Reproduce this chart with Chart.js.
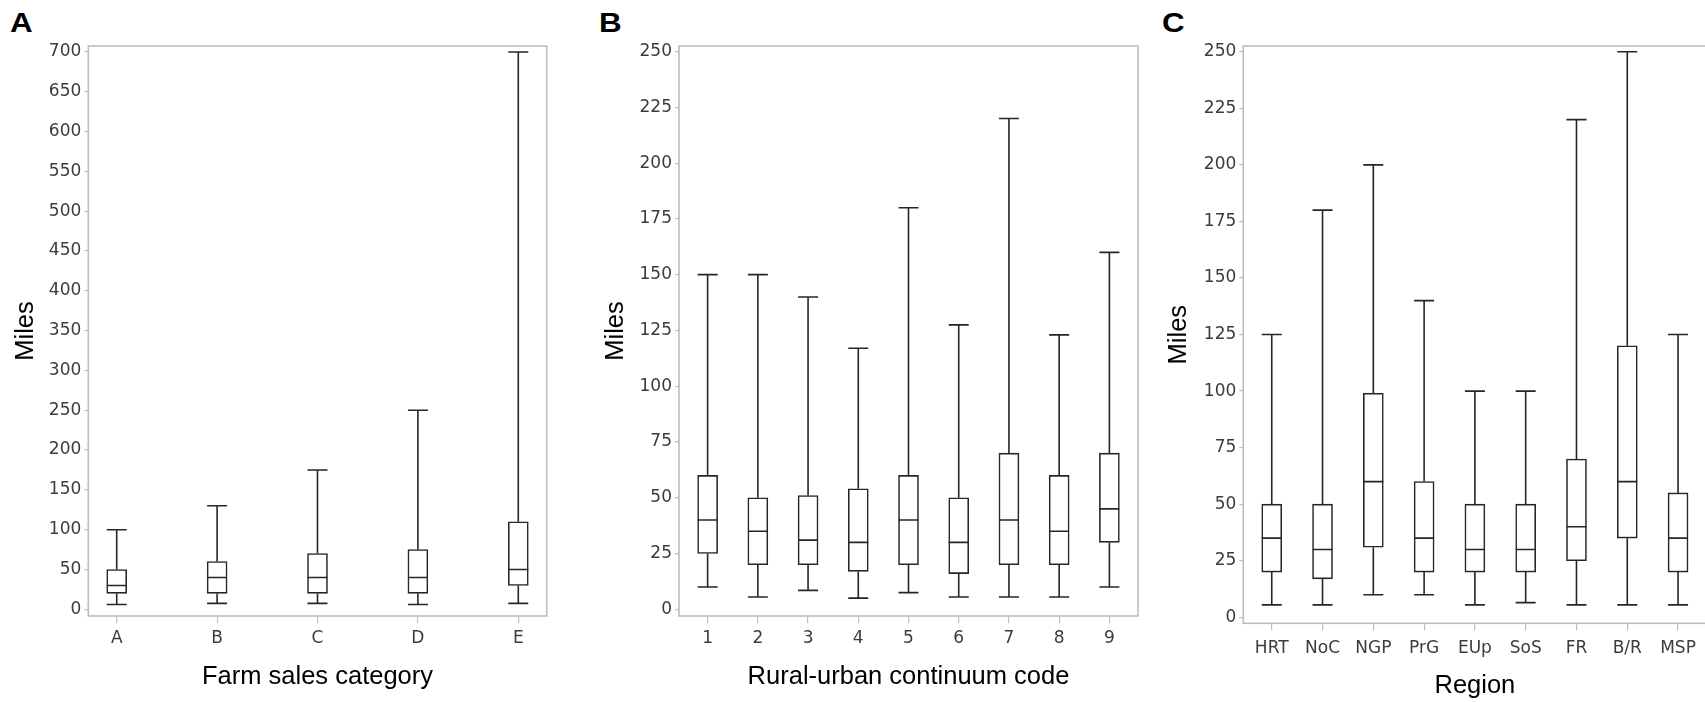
<!DOCTYPE html>
<html>
<head>
<meta charset="utf-8">
<script src="https://cdn.jsdelivr.net/npm/chart.js@4.4.1/dist/chart.umd.min.js"></script>
<style>
  html, body { margin: 0; padding: 0; background: #fff; overflow: hidden; width: 1705px; height: 702px; }
  canvas { position: absolute; top: 0; }
  .tag { position: absolute; font: bold 28px 'Liberation Sans', Arial, sans-serif; line-height: 28px; color: #000;
         transform: scaleX(1.12); transform-origin: 0 0; }
</style>
</head>
<body>
<div class="tag" style="left:10px;top:9px">A</div>
<div class="tag" style="left:599px;top:9px">B</div>
<div class="tag" style="left:1162px;top:9px">C</div>
<canvas id="chart-sales"  width="560" height="702" style="left:0px"></canvas>
<canvas id="chart-rucc"   width="560" height="702" style="left:580px"></canvas>
<canvas id="chart-region" width="560" height="702" style="left:1150px"></canvas>
<script>
// ── DATA ──────────────────────────────────────────────────────────────────
const SALES_CATS = ['A', 'B', 'C', 'D', 'E'];
const SALES_MIN  = [6, 7.5, 7.5, 6, 7.5];
const SALES_Q1   = [20, 20, 20, 20, 30];
const SALES_MED  = [30, 40, 40, 40, 50];
const SALES_Q3   = [50, 60, 70, 75, 110];
const SALES_MAX  = [100, 130, 175, 250, 700];
const SALES_TICKS = [0, 50, 100, 150, 200, 250, 300, 350, 400, 450, 500, 550, 600, 650, 700];

const RUCC_CATS = ['1', '2', '3', '4', '5', '6', '7', '8', '9'];
const RUCC_MIN  = [10, 5.5, 8.5, 5, 7.5, 5.5, 5.5, 5.5, 10];
const RUCC_Q1   = [25, 20, 20, 17, 20, 16, 20, 20, 30];
const RUCC_MED  = [40, 35, 31, 30, 40, 30, 40, 35, 45];
const RUCC_Q3   = [60, 50, 51, 54, 60, 50, 70, 60, 70];
const RUCC_MAX  = [150, 150, 140, 117, 180, 127.5, 220, 123, 160];

const REGION_CATS = ['HRT', 'NoC', 'NGP', 'PrG', 'EUp', 'SoS', 'FR', 'B/R', 'MSP'];
const REGION_MIN  = [5.5, 5.5, 10, 10, 5.5, 6.5, 5.5, 5.5, 5.5];
const REGION_Q1   = [20, 17, 31, 20, 20, 20, 25, 35, 20];
const REGION_MED  = [35, 30, 60, 35, 30, 30, 40, 60, 35];
const REGION_Q3   = [50, 50, 99, 60, 50, 50, 70, 120, 55];
const REGION_MAX  = [125, 180, 200, 140, 100, 100, 220, 250, 125];

const MILES_TICKS = [0, 25, 50, 75, 100, 125, 150, 175, 200, 225, 250];

// ── STYLE ─────────────────────────────────────────────────────────────────
const FONT      = "'Liberation Sans', Arial, sans-serif";
const TICK_FONT = "'DejaVu Sans', 'Liberation Sans', sans-serif";
const INK       = '#262626';
const FRAME     = '#babec2';
const TICK_TEXT = '#3c3c3c';
const BOX_W     = 20;

// frame round the plot area
const framePlugin = {
  id: 'frame',
  beforeDatasetsDraw(chart) {
    const { ctx, chartArea: a } = chart;
    ctx.save();
    ctx.strokeStyle = FRAME;
    ctx.lineWidth = 1.6;
    ctx.strokeRect(a.left, a.top, a.right - a.left, a.bottom - a.top);
    ctx.restore();
  }
};

// ── BOX PLOT PANEL ────────────────────────────────────────────────────────
function renderBoxPanel(id, p) {
  const ctx = document.getElementById(id);

  // whiskers, caps and median line, placed with the chart's own scales
  const whiskers = {
    id: 'whiskers',
    afterDatasetsDraw(chart) {
      const { ctx, scales: { x, y } } = chart;
      const h = BOX_W / 2;
      ctx.save();
      ctx.strokeStyle = INK;
      ctx.lineWidth = 1.6;
      p.cats.forEach((_, i) => {
        const cx   = x.getPixelForValue(i);
        const yMin = y.getPixelForValue(p.min[i]);
        const yQ1  = y.getPixelForValue(p.q1[i]);
        const yMed = y.getPixelForValue(p.med[i]);
        const yQ3  = y.getPixelForValue(p.q3[i]);
        const yMax = y.getPixelForValue(p.max[i]);
        ctx.beginPath();
        ctx.moveTo(cx, yQ3);     ctx.lineTo(cx, yMax);
        ctx.moveTo(cx, yQ1);     ctx.lineTo(cx, yMin);
        ctx.moveTo(cx - h, yMax); ctx.lineTo(cx + h, yMax);
        ctx.moveTo(cx - h, yMin); ctx.lineTo(cx + h, yMin);
        ctx.moveTo(cx - h, yMed); ctx.lineTo(cx + h, yMed);
        ctx.stroke();
      });
      ctx.restore();
    }
  };

  return new Chart(ctx, {
    type: 'bar',
    data: {
      datasets: [{
        data: p.cats.map((_, i) => ({ x: i, y: [p.q1[i], p.q3[i]] })),
        backgroundColor: '#ffffff',
        borderColor: INK,
        borderWidth: 1.6,
        borderSkipped: false,
        barThickness: BOX_W,
      }]
    },
    options: {
      responsive: false,
      animation: false,
      events: [],
      layout: { padding: { top: 46, right: p.padRight, left: 0, bottom: 0 } },
      plugins: { legend: { display: false }, tooltip: { enabled: false } },
      scales: {
        x: {
          type: 'linear',
          offset: false,
          min: -p.xPad, max: p.cats.length - 1 + p.xPad,
          afterBuildTicks: s => { s.ticks = p.cats.map((_, i) => ({ value: i })); },
          afterFit: s => { s.height = p.xHeight; },
          grid: { display: true, offset: false, drawOnChartArea: false, drawTicks: true, tickLength: 7, color: FRAME, lineWidth: 1.2 },
          border: { display: false },
          ticks: {
            autoSkip: false, maxRotation: 0, padding: p.xTickPad,
            color: TICK_TEXT, font: { family: TICK_FONT, size: 17 },
            callback: v => p.cats[v]
          },
          title: {
            display: true, text: p.xTitle, color: '#000',
            font: { family: FONT, size: 25.5 }, padding: { top: 0, bottom: p.xTitlePad }
          }
        },
        y: {
          min: p.yMin, max: p.yMax,
          afterBuildTicks: s => { s.ticks = p.ticks.map(v => ({ value: v })); },
          afterFit: s => { s.width = p.yWidth; },
          grid: { display: true, drawOnChartArea: false, drawTicks: true, tickLength: 4, color: FRAME, lineWidth: 1.2 },
          border: { display: false },
          ticks: { padding: 3, color: TICK_TEXT, font: { family: TICK_FONT, size: 17 } },
          title: {
            display: true, text: 'Miles', color: '#000',
            font: { family: FONT, size: 25.5 }, padding: { top: p.yTitlePad, bottom: 0 }
          }
        }
      }
    },
    plugins: [framePlugin, whiskers]
  });
}

// ── RENDER ────────────────────────────────────────────────────────────────
renderBoxPanel('chart-sales', {
  cats: SALES_CATS, min: SALES_MIN, q1: SALES_Q1, med: SALES_MED, q3: SALES_Q3, max: SALES_MAX,
  ticks: SALES_TICKS, yMin: -8.4, yMax: 707.5, xPad: 0.283,
  yWidth: 88.3, xHeight: 86, padRight: 13.3,
  xTitle: 'Farm sales category', xTitlePad: 9.5, yTitlePad: 10.5, xTickPad: 5
});

renderBoxPanel('chart-rucc', {
  cats: RUCC_CATS, min: RUCC_MIN, q1: RUCC_Q1, med: RUCC_MED, q3: RUCC_Q3, max: RUCC_MAX,
  ticks: MILES_TICKS, yMin: -3.0, yMax: 252.5, xPad: 0.57,
  yWidth: 99, xHeight: 86, padRight: 2,
  xTitle: 'Rural-urban continuum code', xTitlePad: 9.5, yTitlePad: 21, xTickPad: 5
});

renderBoxPanel('chart-region', {
  cats: REGION_CATS, min: REGION_MIN, q1: REGION_Q1, med: REGION_MED, q3: REGION_Q3, max: REGION_MAX,
  ticks: MILES_TICKS, yMin: -2.65, yMax: 252.55, xPad: 0.56,
  yWidth: 93.3, xHeight: 78.7, padRight: 3.5,
  xTitle: 'Region', xTitlePad: 0.5, yTitlePad: 14, xTickPad: 8
});
</script>
</body>
</html>
